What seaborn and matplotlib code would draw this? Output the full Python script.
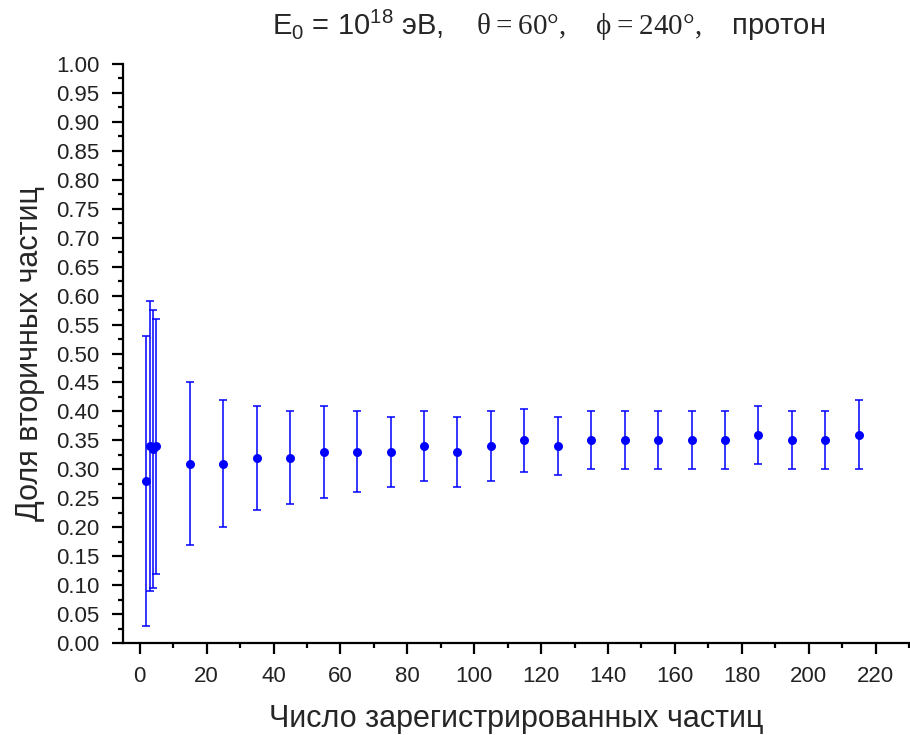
import numpy as np
import pandas as pd
import seaborn as sns
import matplotlib.pyplot as plt
from matplotlib.ticker import MultipleLocator, FormatStrFormatter

# Число зарегистрированных частиц
n_particles = [2, 3, 4, 5, 15, 25, 35, 45, 55, 65, 75, 85, 95, 105,
               115, 125, 135, 145, 155, 165, 175, 185, 195, 205, 215]
# Доля вторичных частиц
fraction = [0.28, 0.34, 0.335, 0.34, 0.31, 0.31, 0.32, 0.32, 0.33, 0.33, 0.33, 0.34, 0.33,
            0.34, 0.35, 0.34, 0.35, 0.35, 0.35, 0.35, 0.35, 0.36, 0.35, 0.35, 0.36]
# погрешность
fraction_err = [0.25, 0.25, 0.24, 0.22, 0.14, 0.11, 0.09, 0.08, 0.08, 0.07, 0.06, 0.06, 0.06,
                0.06, 0.055, 0.05, 0.05, 0.05, 0.05, 0.05, 0.05, 0.05, 0.05, 0.05, 0.06]

df = pd.DataFrame({"n": n_particles, "frac": fraction, "err": fraction_err})

sns.set_theme(style="ticks")
plt.rcParams['font.family'] = ['Liberation Sans', 'DejaVu Sans']
plt.rcParams['mathtext.fontset'] = 'custom'
plt.rcParams['mathtext.rm'] = 'Liberation Serif'
plt.rcParams['mathtext.sf'] = 'Liberation Sans'

fig = plt.figure(figsize=(9.1, 7.35), dpi=100)
ax = fig.add_axes([123 / 910, 1 - 643 / 735, 786 / 910, 579 / 735])

ax.errorbar(df["n"], df["frac"], yerr=df["err"], fmt="none", ecolor="#0000ff",
            elinewidth=1.1, capsize=2.8, capthick=1.1)
sns.scatterplot(data=df, x="n", y="frac", color="#0000ff", s=42, edgecolor="#0000ff",
                linewidth=0, ax=ax, zorder=3)

ax.set_xlim(-5, 230)
ax.set_ylim(0, 1.0)
ax.xaxis.set_major_locator(MultipleLocator(20))
ax.xaxis.set_minor_locator(MultipleLocator(10))
ax.yaxis.set_major_locator(MultipleLocator(0.05))
ax.yaxis.set_minor_locator(MultipleLocator(0.025))
ax.yaxis.set_major_formatter(FormatStrFormatter('%.2f'))

sns.despine(ax=ax)
for side in ["left", "bottom"]:
    ax.spines[side].set_linewidth(1.6)
    ax.spines[side].set_color("black")
ax.tick_params(which="major", direction="out", length=8, width=1.6, colors="black",
               labelsize=16, labelcolor="#222222")
ax.tick_params(which="minor", direction="out", length=3.6, width=1.6, colors="black")
ax.tick_params(axis="x", which="major", pad=8.5)
ax.tick_params(axis="y", which="major", pad=9)

ax.set_xlabel("Число зарегистрированных частиц", fontsize=22, labelpad=12)
ax.set_ylabel("Доля вторичных частиц", fontsize=22, labelpad=8)

fig.text(549 / 910, 1 - 25 / 735,
         r"E$_{\mathsf{0}}$ = 10$^{\mathsf{18}}$ эВ,    $\mathrm{\theta = 60°,}$   "
         r"$\mathrm{\phi = 240°,}$   протон",
         ha="center", va="center", fontsize=21)

fig.savefig("out.png", dpi=100)
